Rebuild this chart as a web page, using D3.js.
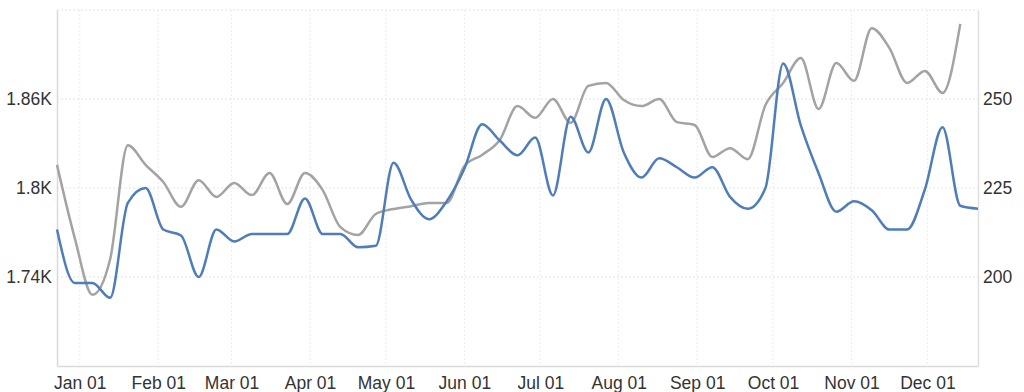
<!DOCTYPE html>
<html>
<head>
<meta charset="utf-8">
<script src="https://cdn.jsdelivr.net/npm/d3@7"></script>
<style>
  body { margin: 0; background: #fff; }
  svg { display: block; font-family: "Liberation Sans", Arial, sans-serif; }
</style>
</head>
<body>
<svg width="1024" height="392"></svg>
<script>
// weekly dates
var weeks = ["2015-12-23","2015-12-30","2016-01-06","2016-01-13","2016-01-20","2016-01-27",
  "2016-02-03","2016-02-10","2016-02-17","2016-02-24","2016-03-02","2016-03-09","2016-03-16",
  "2016-03-23","2016-03-30","2016-04-06","2016-04-13","2016-04-20","2016-04-27","2016-05-04",
  "2016-05-11","2016-05-18","2016-05-25","2016-06-01","2016-06-08","2016-06-15","2016-06-22",
  "2016-06-29","2016-07-06","2016-07-13","2016-07-20","2016-07-27","2016-08-03","2016-08-10",
  "2016-08-17","2016-08-24","2016-08-31","2016-09-07","2016-09-14","2016-09-21","2016-09-28",
  "2016-10-05","2016-10-12","2016-10-19","2016-10-26","2016-11-02","2016-11-09","2016-11-16",
  "2016-11-23","2016-11-30","2016-12-07","2016-12-14","2016-12-21"];

// blue series (left axis)
var blueValues = [1772,1736,1736,1726,1790,1800,1772,1768,1740,1772,1764,1769,1769,
  1769,1793,1769,1769,1760,1761,1817,1792,1779,1791,1813,1843,1832,1822,
  1834,1795,1848,1824,1860,1824,1807,1820,1814,1807,1814,1794,1786,1800,
  1884,1842,1810,1784,1791,1785,1772,1772,1799,1841,1788,1786];

// gray series (right axis), one week shorter
var grayValues = [231.5,211,195,205,237,231.5,226.7,219.7,227.2,222.5,226.4,223,229.2,
  220.5,229.2,224.4,214,211.8,217.7,219.1,219.9,220.8,220.8,231.2,234.3,238.5,248,
  244.7,250,243.3,253.7,254.5,249.7,248,250,243.5,242.7,233.7,236.2,233.1,248.3,
  254.5,261.5,247.2,260.1,255.1,269.9,264.3,254.5,257.9,251.7,271.1];

var leftTicks = [1740, 1800, 1860];
var rightTicks = [200, 225, 250];

var margin = { top: 10, right: 46, bottom: 26, left: 57 },
    width = 1024 - margin.left - margin.right,
    height = 392 - margin.top - margin.bottom;

var parse = d3.utcParse("%Y-%m-%d");
var dates = weeks.map(parse);

var svg = d3.select("svg")
  .append("g")
  .attr("transform", "translate(" + margin.left + "," + margin.top + ")");

var x = d3.scaleUtc()
  .domain([dates[0], dates[dates.length - 1]])
  .range([0, width]);

var yLeft = d3.scaleLinear().domain([1680, 1920]).range([height, 0]);
var yRight = d3.scaleLinear().domain([175, 275]).range([height, 0]);

var monthTicks = x.ticks(d3.utcMonth.every(1));

// grid
svg.append("g")
  .selectAll("line.h")
  .data([1680].concat(leftTicks).concat([1920]).filter(function(d) { return d !== 1680; }))
  .enter().append("line")
  .attr("x1", 0).attr("x2", width)
  .attr("y1", function(d) { return yLeft(d); })
  .attr("y2", function(d) { return yLeft(d); })
  .attr("stroke", "#e3e3e3")
  .attr("stroke-dasharray", "2,2");

svg.append("g")
  .selectAll("line.v")
  .data(monthTicks)
  .enter().append("line")
  .attr("x1", function(d) { return x(d); })
  .attr("x2", function(d) { return x(d); })
  .attr("y1", 0).attr("y2", height)
  .attr("stroke", "#ececec")
  .attr("stroke-dasharray", "2,2");

// axes
var xAxis = svg.append("g")
  .attr("transform", "translate(0," + height + ")")
  .call(d3.axisBottom(x).tickValues(monthTicks).tickFormat(d3.utcFormat("%b %d")).tickSize(0).tickPadding(11));
xAxis.select(".domain").attr("stroke", "#d9d9d9").attr("stroke-width", 1.5);

var leftAxis = svg.append("g")
  .call(d3.axisLeft(yLeft).tickValues(leftTicks).tickSize(0).tickPadding(5)
    .tickFormat(function(d) { return (d / 1000) + "K"; }));
leftAxis.select(".domain").attr("stroke", "#d9d9d9").attr("stroke-width", 1.5);

var rightAxis = svg.append("g")
  .attr("transform", "translate(" + width + ",0)")
  .call(d3.axisRight(yRight).tickValues(rightTicks).tickSize(0).tickPadding(5));
rightAxis.select(".domain").attr("stroke", "#e0e0e0").attr("stroke-width", 1.5);

svg.selectAll(".tick text")
  .attr("fill", "#333")
  .style("font-size", "17.5px")
  .style("font-family", "'Liberation Sans', Arial, sans-serif");

// lines
var grayLine = d3.line()
  .x(function(d, i) { return x(dates[i]); })
  .y(function(d) { return yRight(d); })
  .curve(d3.curveMonotoneX);

var blueLine = d3.line()
  .x(function(d, i) { return x(dates[i]); })
  .y(function(d) { return yLeft(d); })
  .curve(d3.curveMonotoneX);

svg.append("path")
  .datum(grayValues)
  .attr("d", grayLine)
  .attr("fill", "none")
  .attr("stroke", "#a3a3a3")
  .attr("stroke-width", 2.5);

svg.append("path")
  .datum(blueValues)
  .attr("d", blueLine)
  .attr("fill", "none")
  .attr("stroke", "#4e7db8")
  .attr("stroke-width", 2.5);
</script>
</body>
</html>
